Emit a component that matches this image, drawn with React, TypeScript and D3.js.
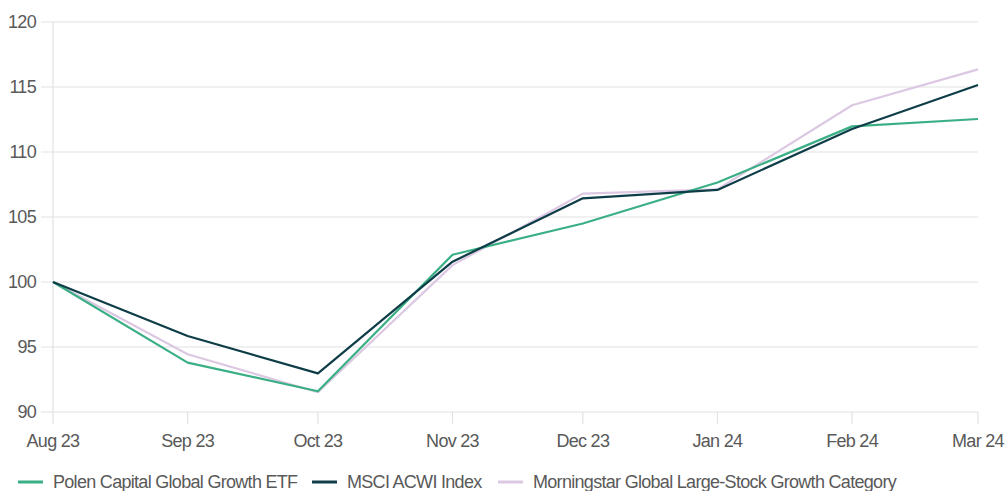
import React from "react";
import * as d3 from "d3";

const months = ["Aug 23", "Sep 23", "Oct 23", "Nov 23", "Dec 23", "Jan 24", "Feb 24", "Mar 24"];
const monthDates = ["2023-08-01", "2023-09-01", "2023-10-01", "2023-11-01", "2023-12-01", "2024-01-01", "2024-02-01", "2024-03-01"];
const polen = [100, 93.8, 91.6, 102.1, 104.5, 107.65, 111.97, 112.54];
const msci = [100, 95.85, 92.97, 101.56, 106.44, 107.08, 111.77, 115.15];
const morningstar = [100, 94.44, 91.52, 101.3, 106.8, 107.13, 113.6, 116.36];
const yTicks = [90, 95, 100, 105, 110, 115, 120];

const seriesNames = ["Polen Capital Global Growth ETF", "MSCI ACWI Index", "Morningstar Global Large-Stock Growth Category"];
const seriesColors = ["#3aaf85", "#0e3d48", "#dcc8e3"];

export default function App() {
  const W = 1007, H = 491;
  const dates = monthDates.map((s) => new Date(s + "T00:00:00Z"));
  const x = d3.scaleUtc().domain([dates[0], dates[dates.length - 1]]).range([53, 978]);
  const y = d3.scaleLinear().domain([90, 120]).range([412, 22]);
  const line = d3.line<number>().x((_, i) => x(dates[i])).y((d) => y(d));
  const data = [polen, msci, morningstar];
  const drawOrder = [2, 0, 1];
  const legendX = [18, 312, 498];
  const font = "'Liberation Sans', Arial, sans-serif";
  const ls = -0.7;
  return (
    <svg width={W} height={H} style={{ position: "absolute", left: 0, top: 0 }} fontFamily={font}>
      {yTicks.map((t) => (
        <g key={t}>
          <line x1={41} x2={978} y1={y(t)} y2={y(t)} stroke="#e2e2e2" strokeWidth={1.2} />
          <text x={36} y={y(t)} dy="0.35em" textAnchor="end" fontSize={18} fill="#595959" letterSpacing={ls}>{t}</text>
        </g>
      ))}
      <line x1={53} x2={53} y1={22} y2={412} stroke="#e2e2e2" strokeWidth={1.2} />
      {months.map((m, i) => (
        <g key={m}>
          <line x1={x(dates[i])} x2={x(dates[i])} y1={412} y2={424} stroke="#e2e2e2" strokeWidth={1.2} />
          <text x={x(dates[i])} y={441} dy="0.35em" textAnchor="middle" fontSize={18} fill="#595959" letterSpacing={ls}>{m}</text>
        </g>
      ))}
      {drawOrder.map((i) => (
        <path key={i} d={line(data[i]) as string} fill="none" stroke={seriesColors[i]} strokeWidth={2.2} strokeLinejoin="round" />
      ))}
      {seriesNames.map((n, i) => (
        <g key={n}>
          <line x1={legendX[i]} x2={legendX[i] + 25} y1={482} y2={482} stroke={seriesColors[i]} strokeWidth={3} />
          <text x={legendX[i] + 35} y={482} dy="0.35em" fontSize={18} fill="#595959" letterSpacing={ls}>{n}</text>
        </g>
      ))}
    </svg>
  );
}
